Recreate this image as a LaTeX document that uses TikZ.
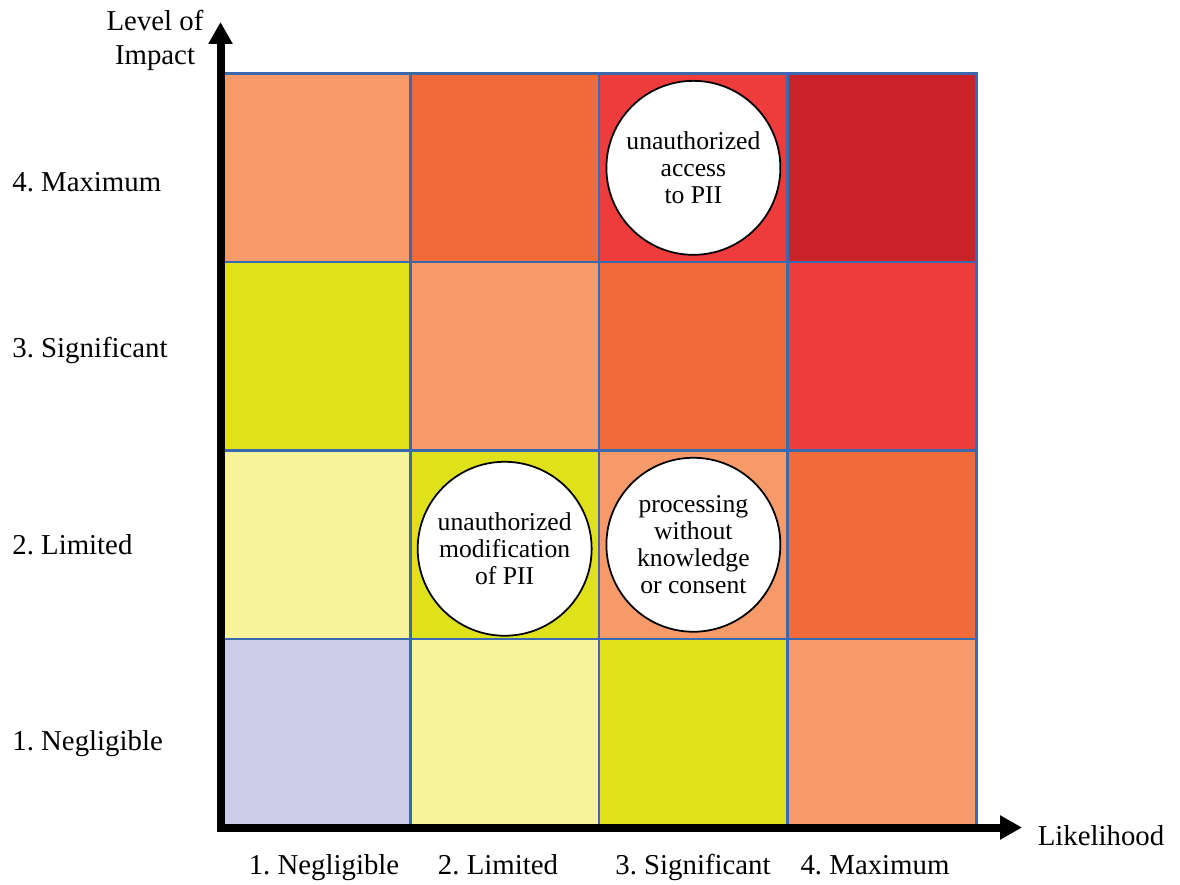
\documentclass[tikz,border=0pt]{standalone}
\usepackage{fontspec}
\setmainfont{Liberation Serif}
\usetikzlibrary{arrows.meta}

\definecolor{riskpale}{HTML}{CDCBE7}
\definecolor{risklow}{HTML}{F6F39B}
\definecolor{riskmid}{HTML}{DFE21A}
\definecolor{riskhigh}{HTML}{F79A6A}
\definecolor{riskvhigh}{HTML}{F06A3A}
\definecolor{risksevere}{HTML}{EE3B3B}
\definecolor{riskcrit}{HTML}{CB2128}
\definecolor{gridline}{HTML}{3B69AD}

\frenchspacing

\begin{document}
\begin{tikzpicture}[x=0.02cm, y=-0.02cm,
    every node/.style={inner sep=0pt, align=center, font=\fontsize{16.4}{18.8}\selectfont},
    cell/.style={draw=gridline, line width=0.05cm, minimum width=3.775cm, minimum height=3.77cm},
    threat/.style={circle, draw=black, line width=1pt, fill=white, minimum size=3.48cm, align=center, font=\fontsize{14.6}{15.4}\selectfont},
    axis/.style={line width=0.16cm, line cap=rect, -{Triangle[width=0.46cm, length=0.44cm]}},
    level/.style={anchor=west, text height=2ex, text depth=0.5ex}]
\useasboundingbox (0,0) rectangle (1180,885);

% risk matrix, likelihood left to right, impact bottom to top
\matrix (m) [ampersand replacement=\&, column sep=-0.05cm, row sep=-0.05cm, anchor=north west] at (220,72)
{
\node [cell, fill=riskhigh] (c41) {}; \&
\node [cell, fill=riskvhigh] (c42) {}; \&
\node [cell, fill=risksevere] (c43) {}; \&
\node [cell, fill=riskcrit] (c44) {}; \\
\node [cell, fill=riskmid] (c31) {}; \&
\node [cell, fill=riskhigh] (c32) {}; \&
\node [cell, fill=riskvhigh] (c33) {}; \&
\node [cell, fill=risksevere] (c34) {}; \\
\node [cell, fill=risklow] (c21) {}; \&
\node [cell, fill=riskmid] (c22) {}; \&
\node [cell, fill=riskhigh] (c23) {}; \&
\node [cell, fill=riskvhigh] (c24) {}; \\
\node [cell, fill=riskpale] (c11) {}; \&
\node [cell, fill=risklow] (c12) {}; \&
\node [cell, fill=riskmid] (c13) {}; \&
\node [cell, fill=riskhigh] (c14) {}; \\
};

% threats
\node [threat] (access) at (c43) {unauthorized\\access\\to PII};
\node [threat] (modify) at ([yshift=-0.08cm]c22.center) {unauthorized\\modification\\of PII};
\node [threat] (consent) at (c23) {processing\\without\\knowledge\\or consent};

% axes
\coordinate (origin) at (220.5,827.5);
\coordinate (ytip) at (220.5,22);
\coordinate (xtip) at (1022,827.5);
\draw [axis] (origin) -- (ytip);
\draw [axis] (origin) -- (xtip);

\node [font=\fontsize{16.4}{19.4}\selectfont] (impact) at (155,40) {Level of\\Impact};
\node (likelihood) at (1101,836) {Likelihood};

% impact levels
\node [level] (imp4) at (12,185) {4. Maximum};
\node [level] (imp3) at (12,351) {3. Significant};
\node [level] (imp2) at (12,548) {2. Limited};
\node [level] (imp1) at (12,744) {1. Negligible};

% likelihood levels
\node [level, anchor=center] (lik1) at (324,868) {1. Negligible};
\node [level, anchor=center] (lik2) at (498,868) {2. Limited};
\node [level, anchor=center] (lik3) at (693,868) {3. Significant};
\node [level, anchor=center] (lik4) at (875,868) {4. Maximum};

\end{tikzpicture}
\end{document}
